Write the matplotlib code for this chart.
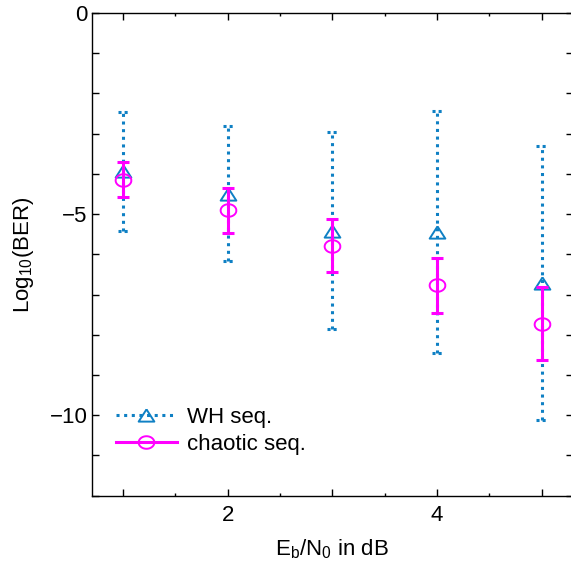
import numpy as np
import matplotlib
matplotlib.use("Agg")
import matplotlib.pyplot as plt
from matplotlib.lines import Line2D
from matplotlib.ticker import MultipleLocator, FuncFormatter

plt.rcParams['font.family'] = ['Liberation Sans', 'DejaVu Sans']
plt.rcParams['mathtext.fontset'] = 'custom'
plt.rcParams['mathtext.rm'] = 'Liberation Sans'
plt.rcParams['mathtext.default'] = 'regular'
plt.rcParams['axes.unicode_minus'] = True

# data
ebno = [1, 2, 3, 4, 5]
wh_mean = [-3.94, -4.49, -5.41, -5.45, -6.72]
wh_err = [1.47, 1.67, 2.45, 3.01, 3.41]
chaos_mean = [-4.14, -4.90, -5.78, -6.77, -7.72]
chaos_err = [0.43, 0.56, 0.67, 0.69, 0.90]
labels = ['WH seq.', 'chaotic seq.']

blue = '#0f80c4'
magenta = '#ff00ff'
fs = 16

# slightly flattened marker shapes, like in the original
tri = [(0, 0.78), (-1, -0.78), (1, -0.78), (0, 0.78)]
t = np.linspace(0, 2 * np.pi, 60)
ell = list(zip(np.cos(t), 0.8 * np.sin(t)))

fig = plt.figure(figsize=(5.71, 5.61), dpi=100)
ax = fig.add_axes([0.1606, 0.1164, 0.8427, 0.8604])

x = np.array(ebno)
wm = np.array(wh_mean)
we = np.array(wh_err)

# WH sequence: dotted error bars with dotted caps
eb = ax.errorbar(x, wm, yerr=we, fmt='none', ecolor=blue, elinewidth=2.2, zorder=2)
eb[2][0].set_linestyle((0, (1, 1.5)))
cw = 0.048
caps_y = np.concatenate([wm + we, wm - we])
caps_x = np.concatenate([x, x])
for xc, yc in zip(caps_x, caps_y):
    ax.plot([xc - cw, xc + cw], [yc, yc], color=blue, linewidth=2.2,
            linestyle=(0, (1, 1)), zorder=2)
ax.plot(x, wm, linestyle='none', marker=tri, ms=11.3, mfc='none', mec=blue, mew=1.4, zorder=3)

# chaotic sequence: solid error bars
ax.errorbar(x, chaos_mean, yerr=chaos_err, fmt='none', ecolor=magenta, elinewidth=2.2,
            capsize=4, capthick=2.2, zorder=4)
ax.plot(x, chaos_mean, linestyle='none', marker=ell, ms=11.3, mfc='none', mec=magenta,
        mew=1.4, zorder=5)

ax.set_xlim(0.7, 5.3)
ax.set_ylim(-12, 0)

ax.xaxis.set_major_locator(MultipleLocator(1))
ax.xaxis.set_minor_locator(MultipleLocator(0.5))
ax.xaxis.set_major_formatter(FuncFormatter(lambda v, p: f'{int(v)}' if int(round(v)) % 2 == 0 else ''))
ax.yaxis.set_major_locator(MultipleLocator(5))
ax.yaxis.set_minor_locator(MultipleLocator(1))
ax.yaxis.set_major_formatter(FuncFormatter(lambda v, p: f'{int(v)}'.replace('-', '\u2212')))

ax.tick_params(which='both', direction='in', top=True, right=True, labelsize=fs, width=1)
ax.tick_params(axis='x', which='major', length=5, pad=7)
ax.tick_params(axis='x', which='minor', length=2.5)
ax.tick_params(axis='y', which='both', length=5, pad=3)
for s in ax.spines.values():
    s.set_linewidth(1)

ax.set_xlabel('E$_b$/N$_0$ in dB', fontsize=fs, labelpad=8)
ax.set_ylabel('Log$_{10}$(BER)', fontsize=fs, labelpad=10)

handles = [
    Line2D([], [], color=blue, linewidth=2.2, linestyle=(0, (1, 1.5)), marker=tri, ms=11.3,
           mfc='none', mec=blue, mew=1.4),
    Line2D([], [], color=magenta, linewidth=2.2, marker=ell, ms=11.3, mfc='none', mec=magenta,
           mew=1.4),
]
ax.legend(handles, labels, loc='center left', bbox_to_anchor=(0.05, 0.134), frameon=False,
          fontsize=fs, borderpad=0, borderaxespad=0, handlelength=2.75, handletextpad=0.45,
          labelspacing=0.25)

fig.savefig('out.png', dpi=100)
